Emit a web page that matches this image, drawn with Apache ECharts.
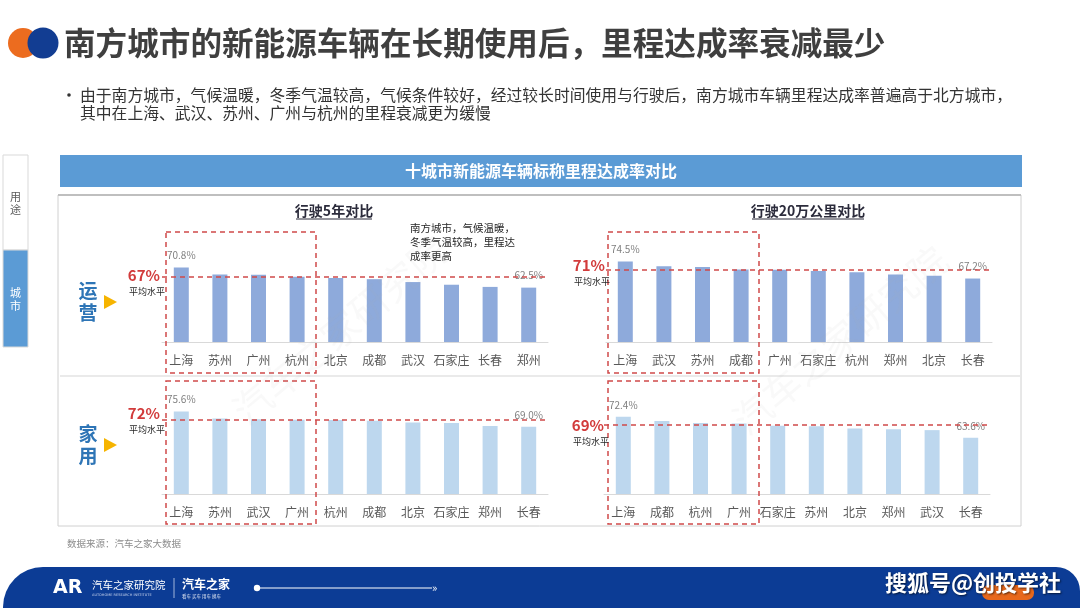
<!DOCTYPE html>
<html>
<head>
<meta charset="utf-8">
<script src="https://cdn.jsdelivr.net/npm/echarts@6/dist/echarts.min.js"></script>
<style>
html,body{margin:0;padding:0;background:#fff;}
#c{width:1080px;height:608px;}
</style>
</head>
<body>
<div id="c"></div>
<script>
// ---- data ----
const catsOp5y = ['上海','苏州','广州','杭州','北京','成都','武汉','石家庄','长春','郑州'];
const valsOp5y = [70.8, 67.9, 67.8, 67.0, 66.5, 66.0, 64.8, 63.7, 62.8, 62.5];
const catsOp20 = ['上海','武汉','苏州','成都','广州','石家庄','杭州','郑州','北京','长春'];
const valsOp20 = [74.5, 72.5, 72.1, 71.1, 71.0, 70.4, 69.9, 68.9, 68.4, 67.2];
const catsHome5y = ['上海','苏州','武汉','广州','杭州','成都','北京','石家庄','郑州','长春'];
const valsHome5y = [75.6, 72.6, 72.3, 72.0, 71.9, 71.6, 70.9, 70.6, 69.3, 69.0];
const catsHome20 = ['上海','成都','杭州','广州','石家庄','苏州','北京','郑州','武汉','长春'];
const valsHome20 = [72.4, 70.6, 69.8, 69.6, 68.6, 68.4, 67.5, 67.2, 66.8, 63.6];
const avgOp5y = 67, avgOp20 = 71, avgHome5y = 72, avgHome20 = 69;

const FONT = '"Noto Sans CJK SC","Noto Sans",sans-serif';
const chart = echarts.init(document.getElementById('c'), null, {renderer:'canvas'});

const panels = [
  {cats:catsOp5y, vals:valsOp5y, avg:avgOp5y, color:'#8eaadb', grid:{left:162, width:386, top:197, height:145}},
  {cats:catsOp20, vals:valsOp20, avg:avgOp20, color:'#8eaadb', grid:{left:606, width:386, top:202, height:140}},
  {cats:catsHome5y, vals:valsHome5y, avg:avgHome5y, color:'#bdd7ee', grid:{left:162, width:386, top:355, height:139}},
  {cats:catsHome20, vals:valsHome20, avg:avgHome20, color:'#bdd7ee', grid:{left:604, width:386, top:351, height:143}}
];

const grids = [], xAxes = [], yAxes = [], series = [];
panels.forEach((p, i) => {
  grids.push(Object.assign({containLabel:false}, p.grid));
  xAxes.push({
    type:'category', gridIndex:i, data:p.cats,
    axisLine:{lineStyle:{color:'#d9d9d9', width:1}},
    axisTick:{show:false},
    axisLabel:{color:'#595959', fontSize:12, margin:12, fontFamily:FONT, interval:0}
  });
  yAxes.push({type:'value', gridIndex:i, min:40, max:100, show:false, splitLine:{show:false}});
  const last = p.vals.length - 1;
  series.push({
    type:'bar', xAxisIndex:i, yAxisIndex:i, barWidth:15,
    itemStyle:{color:p.color},
    data:p.vals.map((v, k) => ({value:v, label:{show:k === 0 || k === last}})),
    label:{position:'top', distance:7, color:'#7f7f7f', fontSize:10, fontFamily:FONT,
      formatter:(d) => d.value.toFixed(1) + '%'},
    markLine:{
      silent:true, symbol:'none',
      lineStyle:{color:'#d0494a', type:[5,4], width:1.5},
      label:{show:false},
      data:[{yAxis:p.avg}]
    },
    z:3
  });
});

function txt(x, y, text, style) {
  return {type:'text', x:x, y:y, z:10, style:Object.assign({text:text, fontFamily:FONT, fill:'#333', fontSize:12, textVerticalAlign:'middle'}, style)};
}
function dashRect(x, y, w, h) {
  return {type:'rect', shape:{x:x, y:y, width:w, height:h}, z:5,
    style:{fill:'none', stroke:'#d0494a', lineWidth:1.5, lineDash:[5,4]}};
}

const g = [];
// title
g.push({type:'circle', shape:{cx:23, cy:43, r:15}, style:{fill:'#ec6c1f'}, z:1});
g.push({type:'circle', shape:{cx:43, cy:43, r:15.5}, style:{fill:'#123d92'}, z:2});
g.push(txt(64, 43, '南方城市的新能源车辆在长期使用后，里程达成率衰减最少', {fontSize:31.6, fontWeight:'bold', fill:'#3f3f3f'}));
// bullet
g.push({type:'circle', shape:{cx:69, cy:95, r:1.8}, style:{fill:'#333'}});
g.push(txt(80, 95, '由于南方城市，气候温暖，冬季气温较高，气候条件较好，经过较长时间使用与行驶后，南方城市车辆里程达成率普遍高于北方城市，', {fontSize:15.8}));
g.push(txt(80, 113, '其中在上海、武汉、苏州、广州与杭州的里程衰减更为缓慢', {fontSize:15.8}));
// sidebar
g.push({type:'rect', shape:{x:3, y:155, width:25, height:95}, style:{fill:'#fff', stroke:'#d9d9d9', lineWidth:1}});
g.push({type:'rect', shape:{x:3, y:250, width:25, height:97}, style:{fill:'#5b9bd5', stroke:'#d9d9d9', lineWidth:1}});
g.push(txt(15.5, 197, '用', {fontSize:11, fill:'#595959', textAlign:'center'}));
g.push(txt(15.5, 210, '途', {fontSize:11, fill:'#595959', textAlign:'center'}));
g.push(txt(15.5, 293, '城', {fontSize:11, fill:'#fff', textAlign:'center'}));
g.push(txt(15.5, 306, '市', {fontSize:11, fill:'#fff', textAlign:'center'}));
// header bar
g.push({type:'rect', shape:{x:60, y:155, width:962, height:32}, style:{fill:'#5b9bd5'}});
g.push(txt(541, 171, '十城市新能源车辆标称里程达成率对比', {fontSize:16, fontWeight:'bold', fill:'#fff', textAlign:'center'}));
// panel
g.push({type:'rect', shape:{x:58, y:195, width:963, height:331}, style:{fill:'none', stroke:'#d0d0d0', lineWidth:1}, z:0});
g.push({type:'line', shape:{x1:58, y1:195, x2:1021, y2:195}, style:{stroke:'#bfbfbf', lineWidth:2}, z:0});
g.push({type:'line', shape:{x1:60, y1:376, x2:1020, y2:376}, style:{stroke:'#e3e3e3', lineWidth:1.5}, z:0});
// subtitles
g.push(txt(334, 211, '行驶5年对比', {fontSize:14, fontWeight:'bold', fill:'#2b2b3b', textAlign:'center'}));
g.push({type:'line', shape:{x1:296, y1:219, x2:372, y2:219}, style:{stroke:'#2b2b3b', lineWidth:1}});
g.push(txt(808, 211, '行驶20万公里对比', {fontSize:14, fontWeight:'bold', fill:'#2b2b3b', textAlign:'center'}));
g.push({type:'line', shape:{x1:752, y1:219, x2:864, y2:219}, style:{stroke:'#2b2b3b', lineWidth:1}});
// annotation
g.push(txt(410, 228, '南方城市，气候温暖，', {fontSize:10.5, fill:'#262626'}));
g.push(txt(410, 242, '冬季气温较高，里程达', {fontSize:10.5, fill:'#262626'}));
g.push(txt(410, 256, '成率更高', {fontSize:10.5, fill:'#262626'}));
// row labels
function rowLabel(yc, a, b) {
  g.push(txt(88, yc - 11, a, {fontSize:19, fontWeight:'bold', fill:'#2e75b6', textAlign:'center'}));
  g.push(txt(88, yc + 11, b, {fontSize:19, fontWeight:'bold', fill:'#2e75b6', textAlign:'center'}));
  g.push({type:'polygon', shape:{points:[[104, yc - 7], [104, yc + 7], [117, yc]]}, style:{fill:'#f6b400'}});
}
rowLabel(302, '运', '营');
rowLabel(445, '家', '用');
// avg labels
function avgLabel(xr, y, v) {
  g.push(txt(xr, y, v + '%', {fontSize:15, fontWeight:'bold', fill:'#d23b3b', textAlign:'right'}));
  g.push(txt(xr + 5, y + 17, '平均水平', {fontSize:9, fill:'#262626', textAlign:'right'}));
}
avgLabel(160, 275, avgOp5y);
avgLabel(605, 265, avgOp20);
avgLabel(160, 413, avgHome5y);
avgLabel(604, 425, avgHome20);
// dashed boxes
g.push(dashRect(166, 232, 150, 141));
g.push(dashRect(608, 232, 151, 141));
g.push(dashRect(166, 381, 150, 143));
g.push(dashRect(608, 381, 151, 143));
// watermark
g.push({type:'text', x:340, y:330, rotation:0.7, z:20, style:{text:'汽车之家研究院', fontSize:38, fontFamily:FONT, fill:'rgba(170,170,170,0.07)', textAlign:'center', textVerticalAlign:'middle'}});
g.push({type:'text', x:840, y:340, rotation:0.7, z:20, style:{text:'汽车之家研究院', fontSize:38, fontFamily:FONT, fill:'rgba(170,170,170,0.07)', textAlign:'center', textVerticalAlign:'middle'}});
// source
g.push(txt(67, 543, '数据来源：汽车之家大数据', {fontSize:9.5, fill:'#8c8c8c'}));
// footer band
g.push({type:'rect', z:1, shape:{x:3, y:567, width:1077, height:60, r:[40, 24, 0, 0]}, style:{fill:'#0c3c95'}});
g.push(txt(53, 588, 'AR', {fontSize:19, fontWeight:'bold', fill:'#fff', fontFamily:'"DejaVu Sans",sans-serif'}));
g.push(txt(92, 585, '汽车之家研究院', {fontSize:10.5, fill:'#fff'}));
g.push(txt(92, 595, 'AUTOHOME RESEARCH INSTITUTE', {fontSize:3.5, fill:'#c8d4ec', fontFamily:'"DejaVu Sans",sans-serif'}));
g.push({type:'line', z:5, shape:{x1:174, y1:578, x2:174, y2:598}, style:{stroke:'#c8d4ec', lineWidth:0.8}});
g.push(txt(182, 584, '汽车之家', {fontSize:12, fontWeight:'bold', fill:'#fff'}));
g.push(txt(182, 596, '看车 买车 用车 换车', {fontSize:4.5, fill:'#e0e6f2'}));
g.push({type:'circle', z:5, shape:{cx:257, cy:588, r:3.2}, style:{fill:'#fff'}});
g.push({type:'line', z:5, shape:{x1:260, y1:588, x2:432, y2:588}, style:{stroke:'#fff', lineWidth:1}});
g.push(txt(432, 588, '»', {fontSize:11, fill:'#fff'}));
g.push({type:'rect', shape:{x:982, y:585, width:52, height:15, r:7}, style:{fill:'#e8681c'}, z:2});
g.push(txt(973, 583, '搜狐号@创投学社', {fontSize:22, fontWeight:'bold', fill:'#fff', textAlign:'center', textShadowColor:'rgba(0,0,0,0.6)', textShadowBlur:2, textShadowOffsetX:1, textShadowOffsetY:1}));

chart.setOption({
  animation:false,
  backgroundColor:'#fff',
  textStyle:{fontFamily:FONT},
  grid:grids, xAxis:xAxes, yAxis:yAxes, series:series,
  graphic:{elements:g}
});
</script>
</body>
</html>
